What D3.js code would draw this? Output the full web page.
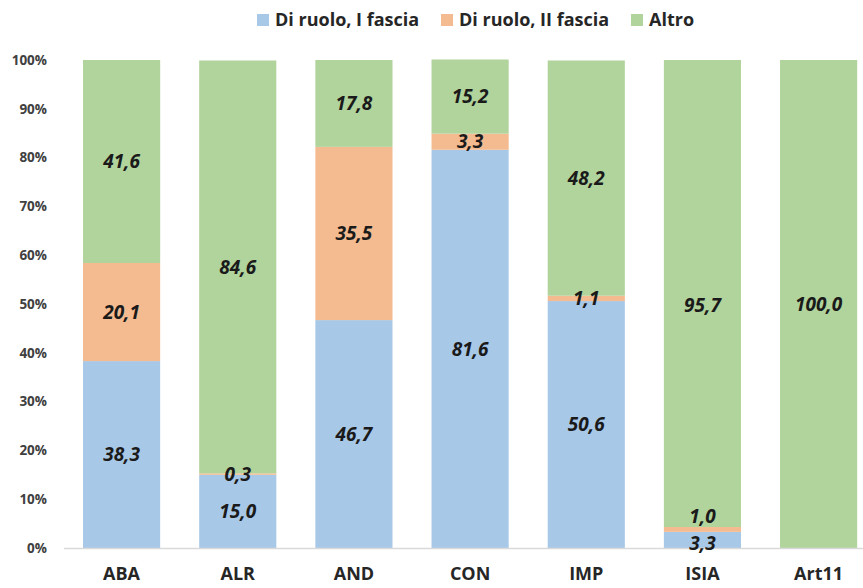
<!DOCTYPE html>
<html><head><meta charset="utf-8">
<script src="https://cdn.jsdelivr.net/npm/d3@7"></script>
<style>body{margin:0;background:#fff}svg{display:block}</style>
</head><body><svg id="c" width="863" height="588"></svg>
<script>
const categories = ["ABA","ALR","AND","CON","IMP","ISIA","Art11"];
const seriesNames = ["Di ruolo, I fascia","Di ruolo, II fascia","Altro"];
const fascia1 = [38.3,15.0,46.7,81.6,50.6,3.3,0];
const fascia2 = [20.1,0.3,35.5,3.3,1.1,1.0,0];
const altro   = [41.6,84.6,17.8,15.2,48.2,95.7,100.0];
const yTicks  = [0,10,20,30,40,50,60,70,80,90,100];
const colors  = ["#a8c8e7","#f4bb90","#b1d39c"];

const svg = d3.select("#c");
const font = "'Open Sans', sans-serif";
const x = d3.scaleBand().domain(categories).range([63.5,876.7]).paddingInner(0.336).paddingOuter(0.168);
const y = d3.scaleLinear().domain([0,100]).range([548,60]);

const rows = categories.map((c,i)=>({cat:c, s0:fascia1[i], s1:fascia2[i], s2:altro[i]}));
const stack = d3.stack().keys(["s0","s1","s2"])(rows);

// label nudges (px) for manually moved labels in the original
const nudge = {"ISIA|0":3,"ISIA|1":-13,"ISIA|2":12};

stack.forEach((layer,k)=>{
  svg.append("g").selectAll("rect").data(layer).join("rect")
    .attr("x",d=>x(d.data.cat)).attr("width",x.bandwidth())
    .attr("y",d=>y(d[1])).attr("height",d=>y(d[0])-y(d[1]))
    .attr("fill",colors[k]);
});
// axis line
svg.append("line").attr("x1",64).attr("x2",863).attr("y1",y(0)+0.5).attr("y2",y(0)+0.5)
  .attr("stroke","#d9d9d9").attr("stroke-width",1.5);

stack.forEach((layer,k)=>{
  svg.append("g").selectAll("text").data(layer.filter(d=>d[1]-d[0]>0)).join("text")
    .attr("x",d=>x(d.data.cat)+x.bandwidth()/2)
    .attr("y",d=>y((d[0]+d[1])/2)+(nudge[d.data.cat+"|"+k]||0))
    .attr("dy","0.35em").attr("text-anchor","middle")
    .attr("font-family",font).attr("font-weight","bold").attr("font-style","italic")
    .attr("font-size",19).attr("fill","#1a1a1a")
    .text(d=>d3.format(".1f")(d[1]-d[0]).replace(".",","));
});

// y axis labels
svg.append("g").selectAll("text").data(yTicks).join("text")
  .attr("x",47).attr("y",d=>y(d)).attr("dy","0.35em").attr("text-anchor","end")
  .attr("font-family",font).attr("font-weight","bold").attr("font-size",13.5).attr("fill","#404040")
  .text(d=>d+"%");
// x labels
svg.append("g").selectAll("text").data(categories).join("text")
  .attr("x",d=>x(d)+x.bandwidth()/2).attr("y",574).attr("dy","0.35em").attr("text-anchor","middle")
  .attr("font-family",font).attr("font-weight","bold").attr("font-size",18).attr("fill","#262626")
  .text(d=>d);
// legend
const legX = [257,441,631];
const lg = svg.append("g");
seriesNames.forEach((n,i)=>{
  lg.append("rect").attr("x",legX[i]).attr("y",14).attr("width",12).attr("height",12).attr("fill",colors[i]);
  lg.append("text").attr("x",legX[i]+18).attr("y",20).attr("dy","0.35em")
    .attr("font-family",font).attr("font-weight","bold").attr("font-size",18).attr("fill","#262626").text(n);
});
</script></body></html>
